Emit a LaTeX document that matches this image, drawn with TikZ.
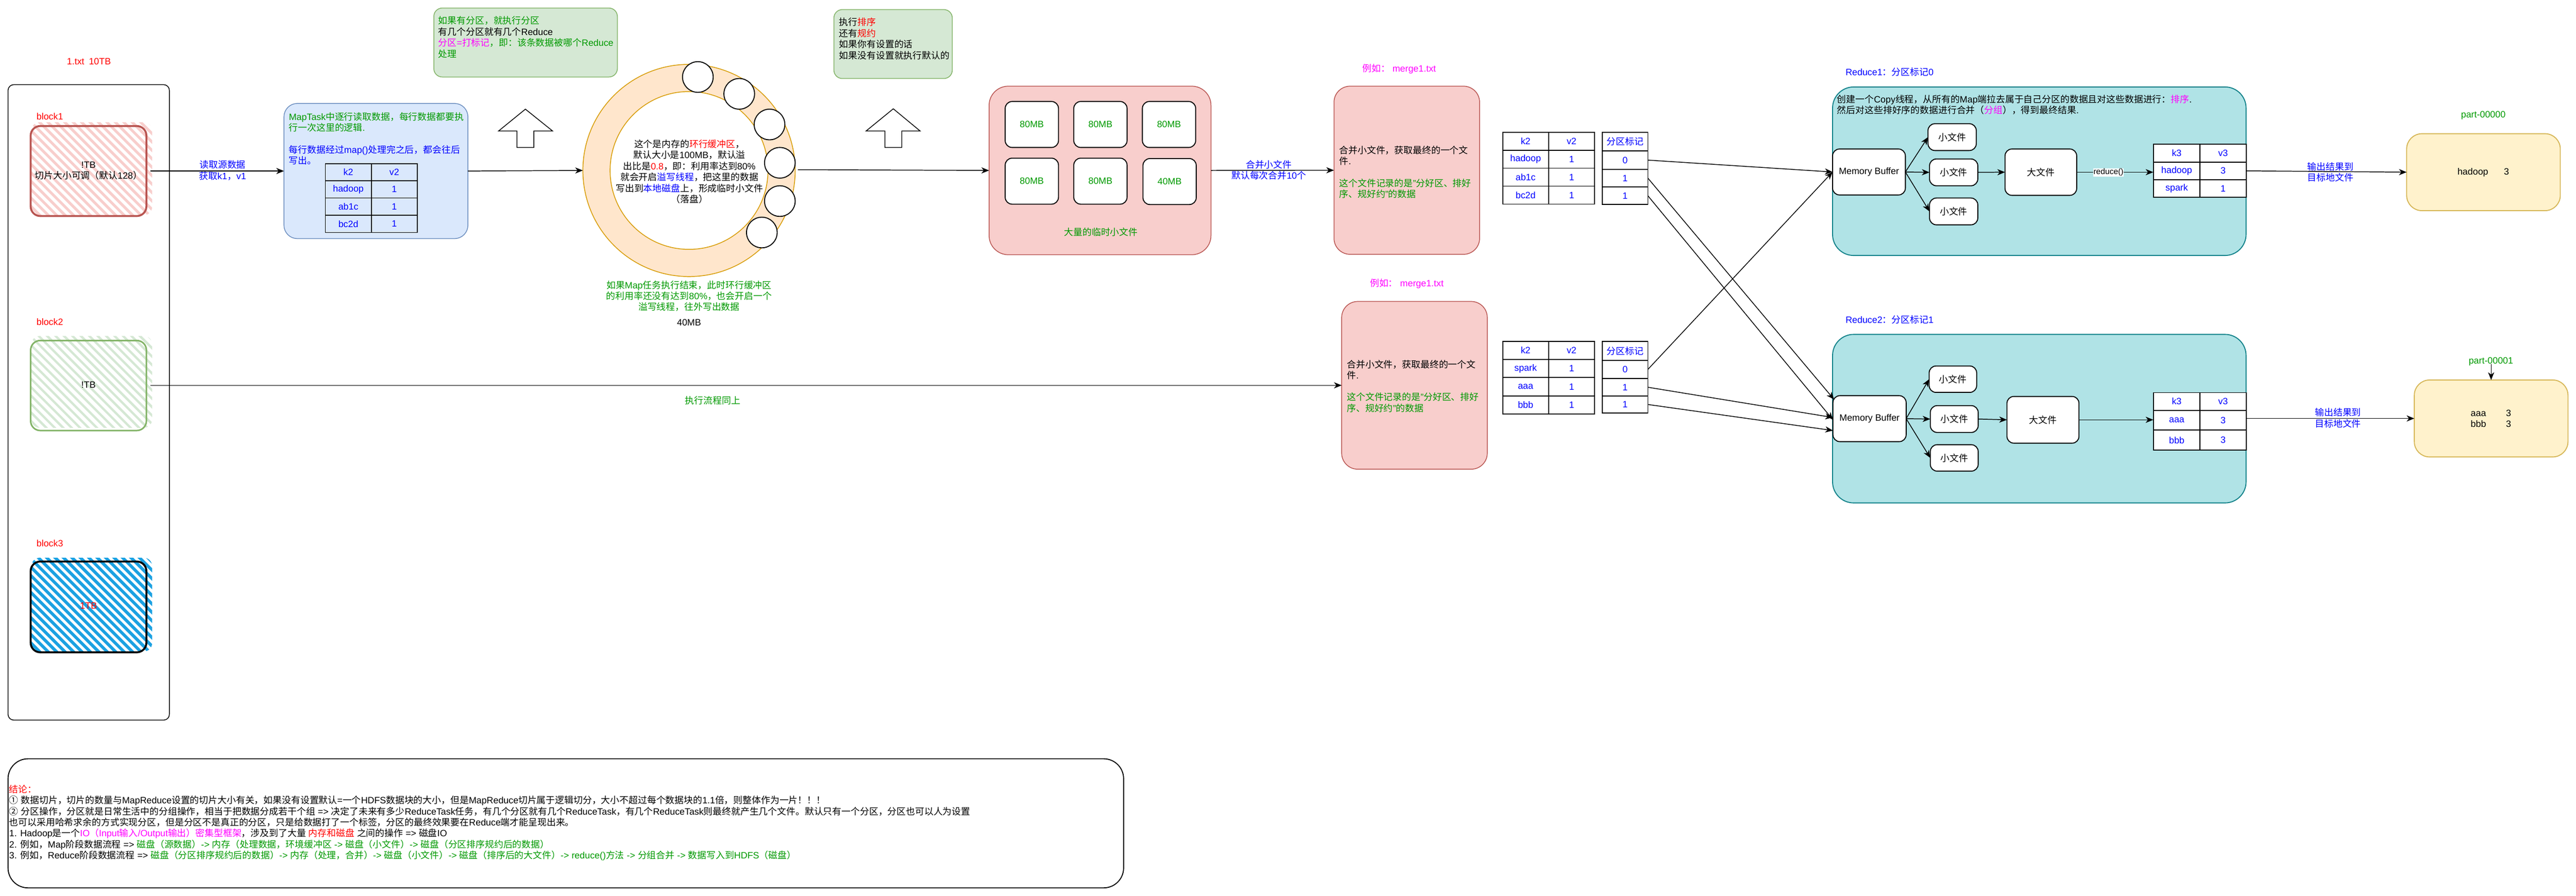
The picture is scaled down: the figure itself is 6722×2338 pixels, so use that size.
\documentclass[tikz,border=0pt]{standalone}
\usepackage{fontspec}
\setmainfont{Liberation Sans}
\newfontfamily\cjkfont{Noto Sans CJK SC}
\usetikzlibrary{arrows.meta}
\XeTeXinterchartokenstate=1
\newXeTeXintercharclass\cjkcls
\newcount\cjkc
\def\setcjkrange#1#2{\cjkc=#1\relax\loop\XeTeXcharclass\cjkc=\cjkcls\relax\ifnum\cjkc<#2\relax\advance\cjkc by 1\relax\repeat}
\setcjkrange{"2460}{"24FF}
\setcjkrange{"2E80}{"9FFF}
\setcjkrange{"F900}{"FAFF}
\setcjkrange{"FE30}{"FE4F}
\setcjkrange{"FF00}{"FFEF}
\XeTeXinterchartoks 0 \cjkcls = {\begingroup\cjkfont}
\XeTeXinterchartoks 4095 \cjkcls = {\begingroup\cjkfont}
\XeTeXinterchartoks \cjkcls 0 = {\endgroup}
\XeTeXinterchartoks \cjkcls 4095 = {\endgroup}
\definecolor{cRed}{HTML}{FF0000}
\definecolor{cBlue}{HTML}{0000FF}
\definecolor{cGreen}{HTML}{009900}
\definecolor{cMag}{HTML}{FF00FF}
\definecolor{pinkF}{HTML}{F8CECC}
\definecolor{pinkS}{HTML}{B85450}
\definecolor{blueF}{HTML}{DAE8FC}
\definecolor{blueS}{HTML}{6C8EBF}
\definecolor{greenF}{HTML}{D5E8D4}
\definecolor{greenS}{HTML}{82B366}
\definecolor{orangeF}{HTML}{FFE6CC}
\definecolor{orangeS}{HTML}{D79B00}
\definecolor{tealF}{HTML}{B0E3E6}
\definecolor{tealS}{HTML}{0E8088}
\definecolor{yellowF}{HTML}{FFF2CC}
\definecolor{yellowS}{HTML}{D6B656}
\definecolor{hatchB}{HTML}{1BA1E2}
\begin{document}
\begin{tikzpicture}[x=1pt,y=-1pt,
 every node/.style={inner sep=0pt,outer sep=0pt},
 t24/.style={font=\fontsize{24pt}{28.8pt}\selectfont},
 t21/.style={font=\fontsize{21pt}{25.2pt}\selectfont},
 sz/.style 2 args={minimum width=#1,minimum height=#2},
 arr/.style={draw=black,line width=2pt,-{Stealth[length=20pt,width=16pt,inset=6pt]}},
 shapeline/.style={draw=black,line width=2pt},
 wbox/.style={draw=black,fill=white,line width=2.5pt,rounded corners=18pt,t24},
 cell/.style={draw=black,line width=2.5pt,t24,text=cBlue},
 wcell/.style={cell,fill=white},
 lbl/.style={t24,align=center},
 notebox/.style={draw=greenS,fill=greenF,line width=2pt,rounded corners=22pt},
 pinkbox/.style={draw=pinkS,fill=pinkF,line width=2pt,rounded corners=42pt},
 tealbox/.style={draw=tealS,fill=tealF,line width=2.5pt,rounded corners=55pt},
 yellowbox/.style={draw=yellowS,fill=yellowF,line width=2.5pt,rounded corners=40pt},
]
\fill[white] (0,0) rectangle (6722,2338);
\useasboundingbox (0,0) rectangle (6722,2338);

% ---------------- left: file and blocks ----------------
\node[t24,text=cRed] (title) at (232,160) {1.txt\hspace{12pt}10TB};
\node[draw=black,line width=2pt,rounded corners=15pt,sz={421pt}{1659pt}] (file) at (231.5,1050.5) {};

\begin{scope}
 \clip[rounded corners=22pt] (82,319) rectangle (397,562);
 \foreach \i in {0,...,26} \draw[pinkF,line width=7pt] ({-180+22*\i},300) -- ++(300,300);
\end{scope}
\begin{scope}
 \clip[rounded corners=22pt] (82,877) rectangle (397,1117);
 \foreach \i in {0,...,26} \draw[greenF,line width=6pt] ({-180+22*\i},860) -- ++(300,300);
\end{scope}
\begin{scope}
 \clip[rounded corners=22pt] (82,1456) rectangle (397,1701);
 \foreach \i in {0,...,26} \draw[hatchB,line width=8pt] ({-180+22*\i},1440) -- ++(300,300);
\end{scope}

\node[draw=pinkS,line width=5pt,rounded corners=25pt,sz={302pt}{235pt}] (b1) at (231,446.5) {};
\node[draw=greenS,line width=4pt,rounded corners=25pt,sz={302pt}{235pt}] (b2) at (231,1006.5) {};
\node[draw=black,line width=5pt,rounded corners=25pt,sz={302pt}{237pt}] (b3) at (231,1584.5) {};
\node[t24,text=cRed] (b1lab) at (130,304) {block1};
\node[t24,text=cRed] (b2lab) at (130,841) {block2};
\node[t24,text=cRed] (b3lab) at (130,1419) {block3};
\node[t24,align=center] (b1txt) at (231,446) {!TB\\切片大小可调（默认128）};
\node[t24] (b2txt) at (231,1005) {!TB};
\node[t24,text=cRed] (b3txt) at (231,1582) {1TB};
\coordinate (b1out) at (393,446.5);
\coordinate (b2out) at (393,1006);

% ---------------- MapTask ----------------
\node[draw=blueS,fill=blueF,line width=2pt,rounded corners=35pt,sz={480pt}{353pt}] (maptask) at (981,446.5) {};
\node[t24,align=left,anchor=west,text=cGreen] (mtxt1) at (754,319) {MapTask中逐行读取数据，每行数据都要执\\行一次这里的逻辑.};
\node[t24,align=left,anchor=west,text=cBlue] (mtxt2) at (754,405) {每行数据经过map()处理完之后，都会往后\\写出。};
\node[cell,sz={120pt}{45pt}] (m11) at (909,449.5) {k2};
\node[cell,sz={120pt}{45pt}] (m12) at (1029,449.5) {v2};
\node[cell,sz={120pt}{45pt}] (m21) at (909,494.5) {hadoop};
\node[cell,sz={120pt}{45pt}] (m22) at (1029,494.5) {1};
\node[cell,sz={120pt}{45pt}] (m31) at (909,539.5) {ab1c};
\node[cell,sz={120pt}{45pt}] (m32) at (1029,539.5) {1};
\node[cell,sz={120pt}{45pt}] (m41) at (909,584.5) {bc2d};
\node[cell,sz={120pt}{45pt}] (m42) at (1029,584.5) {1};
\draw[arr] (b1out) -- (maptask.west);
\node[lbl,text=cBlue] (lab1) at (581,445) {读取源数据\\获取k1，v1};

% ---------------- notes and up arrows ----------------
\node[notebox,sz={479pt}{180pt}] (pnote) at (1371.5,111) {};
\node[t24,align=left,anchor=west,text=cGreen] (pnotetxt) at (1144,97) {如果有分区，就执行分区\\\textcolor{black}{有几个分区就有几个Reduce}\\\textcolor{cMag}{分区=打标记}，即：该条数据被哪个Reduce\\处理};
\draw[shapeline,fill=white] (1371,285) -- (1442,342) -- (1393,342) -- (1393,385) -- (1349,385) -- (1349,342) -- (1301,342) -- cycle;

\node[notebox,sz={309pt}{180pt}] (snote) at (2330.5,115) {};
\node[t24,align=left,anchor=west] (snotetxt) at (2190,101) {执行\textcolor{cRed}{排序}\\还有\textcolor{cRed}{规约}\\如果你有设置的话\\如果没有设置就执行默认的};
\draw[shapeline,fill=white] (2331,284) -- (2401,342) -- (2353,342) -- (2353,385) -- (2309,385) -- (2309,342) -- (2260,342) -- cycle;

% ---------------- ring buffer ----------------
\node[circle,sz={554pt}{554pt}] (ring) at (1798,445) {};
\path[draw=orangeS,fill=orangeF,line width=2pt,even odd rule] (1798,445) circle[radius=277pt] (1798,445) circle[radius=206pt];
\node[circle,draw=black,fill=white,line width=2.5pt,sz={80pt}{80pt}] (c1) at (1821,201) {};
\node[circle,draw=black,fill=white,line width=2.5pt,sz={80pt}{80pt}] (c2) at (1929,245) {};
\node[circle,draw=black,fill=white,line width=2.5pt,sz={80pt}{80pt}] (c3) at (2008,325) {};
\node[circle,draw=black,fill=white,line width=2.5pt,sz={80pt}{80pt}] (c4) at (2035,425) {};
\node[circle,draw=black,fill=white,line width=2.5pt,sz={80pt}{80pt}] (c5) at (2035,525) {};
\node[circle,draw=black,fill=white,line width=2.5pt,sz={80pt}{80pt}] (c6) at (1988,607) {};
\node[t24,align=center] (ringtxt) at (1799,448) {这个是内存的\textcolor{cRed}{环行缓冲区}，\\默认大小是100MB，默认溢\\出比是\textcolor{cRed}{0.8}，即：利用率达到80\%\\就会开启\textcolor{cBlue}{溢写线程}，把这里的数据\\写出到\textcolor{cBlue}{本地磁盘}上，形成临时小文件\\（落盘）};
\node[t24,align=center,text=cGreen] (ringnote) at (1798,773) {如果Map任务执行结束，此时环行缓冲区\\的利用率还没有达到80\%，也会开启一个\\溢写线程，往外写出数据};
\node[t24] (ring40) at (1798,842) {40MB};
\draw[arr] (maptask.east) -- (ring.west);
\coordinate (ringout) at (2082,443);

% ---------------- temp small files ----------------
\node[pinkbox,rounded corners=50pt,sz={579pt}{440pt}] (pink) at (2870.5,445) {};
\node[wbox,text=cGreen,sz={139pt}{120pt}] (f1) at (2692.5,325) {80MB};
\node[wbox,text=cGreen,sz={139pt}{120pt}] (f2) at (2871.5,325) {80MB};
\node[wbox,text=cGreen,sz={139pt}{120pt}] (f3) at (3050.5,325) {80MB};
\node[wbox,text=cGreen,sz={139pt}{120pt}] (f4) at (2692.5,473) {80MB};
\node[wbox,text=cGreen,sz={139pt}{120pt}] (f5) at (2871.5,473) {80MB};
\node[wbox,text=cGreen,sz={139pt}{120pt}] (f6) at (3052,474) {40MB};
\node[t24,text=cGreen] (pinktxt) at (2873,606) {大量的临时小文件};
\draw[arr] (ringout) -- (pink.west);

% ---------------- merge ----------------
\node[t24,text=cMag] (m1lab) at (3651,180) {例如： merge1.txt};
\node[pinkbox,sz={380pt}{439pt}] (merge1) at (3671,444.5) {};
\node[t24,align=left,anchor=west] (m1t1) at (3495,406) {合并小文件，获取最终的一个文\\件.};
\node[t24,align=left,anchor=west,text=cGreen] (m1t2) at (3495,492) {这个文件记录的是"分好区、排好\\序、规好约"的数据};
\draw[arr] (pink.east) -- (merge1.west);
\node[lbl,text=cBlue] (lab3) at (3311,444) {合并小文件\\默认每次合并10个};

\node[t24,text=cMag] (m2lab) at (3671,741) {例如： merge1.txt};
\node[pinkbox,sz={380pt}{438pt}] (merge2) at (3691,1006) {};
\node[t24,align=left,anchor=west] (m2t1) at (3515,965.5) {合并小文件，获取最终的一个文\\件.};
\node[t24,align=left,anchor=west,text=cGreen] (m2t2) at (3515,1051) {这个文件记录的是"分好区、排好\\序、规好约"的数据};
\draw[arr] (b2out) -- (merge2.west);
\node[t24,text=cGreen] (lab2) at (1860,1046) {执行流程同上};

% ---------------- k2 v2 tables with partition marks ----------------
\node[cell,sz={120pt}{47pt}] (t111) at (3981,368.5) {k2};
\node[cell,sz={120pt}{47pt}] (t112) at (4101,368.5) {v2};
\node[cell,sz={120pt}{47pt}] (t121) at (3981,415.5) {hadoop};
\node[cell,sz={120pt}{47pt}] (t122) at (4101,415.5) {1};
\node[cell,sz={120pt}{47pt}] (t131) at (3981,462.5) {ab1c};
\node[cell,sz={120pt}{47pt}] (t132) at (4101,462.5) {1};
\node[cell,sz={120pt}{47pt}] (t141) at (3981,509.5) {bc2d};
\node[cell,sz={120pt}{47pt}] (t142) at (4101,509.5) {1};
\node[cell,sz={119pt}{49pt}] (p11) at (4240.5,369.5) {分区标记};
\node[cell,sz={119pt}{48pt}] (p12) at (4240.5,418) {0};
\node[cell,sz={119pt}{46pt}] (p13) at (4240.5,465) {1};
\node[cell,sz={119pt}{46pt}] (p14) at (4240.5,511) {1};

\node[cell,sz={120pt}{47.5pt}] (t211) at (3981,914.75) {k2};
\node[cell,sz={120pt}{47.5pt}] (t212) at (4101,914.75) {v2};
\node[cell,sz={120pt}{47.5pt}] (t221) at (3981,962.25) {spark};
\node[cell,sz={120pt}{47.5pt}] (t222) at (4101,962.25) {1};
\node[cell,sz={120pt}{47.5pt}] (t231) at (3981,1009.75) {aaa};
\node[cell,sz={120pt}{47.5pt}] (t232) at (4101,1009.75) {1};
\node[cell,sz={120pt}{47.5pt}] (t241) at (3981,1057.25) {bbb};
\node[cell,sz={120pt}{47.5pt}] (t242) at (4101,1057.25) {1};
\node[cell,sz={119pt}{50pt}] (p21) at (4240.5,916) {分区标记};
\node[cell,sz={119pt}{47pt}] (p22) at (4240.5,964.5) {0};
\node[cell,sz={119pt}{46pt}] (p23) at (4240.5,1011) {1};
\node[cell,sz={119pt}{44pt}] (p24) at (4240.5,1056) {1};

% ---------------- Reduce 1 ----------------
\node[t24,text=cBlue,anchor=west] (r1lab) at (4816,188) {Reduce1：分区标记0};
\node[tealbox,sz={1079pt}{440pt}] (red1) at (5321.5,447) {};
\node[t24,align=left,anchor=west] (r1txt) at (4794,273.5) {创建一个Copy线程，从所有的Map端拉去属于自己分区的数据且对这些数据进行：\textcolor{cMag}{排序}.\\然后对这些排好序的数据进行合并（\textcolor{cMag}{分组}），得到最终结果.};
\node[wbox,sz={190pt}{120pt}] (mb1) at (4877,449) {Memory Buffer};
\node[wbox,sz={126pt}{70pt}] (s1a) at (5094,358) {小文件};
\node[wbox,sz={126pt}{70pt}] (s1b) at (5098,450) {小文件};
\node[wbox,sz={126pt}{70pt}] (s1c) at (5098,552) {小文件};
\node[wbox,sz={187pt}{121pt}] (big1) at (5325.5,449.5) {大文件};
\node[wcell,sz={122pt}{46pt}] (t311) at (5680,400) {k3};
\node[wcell,sz={120pt}{46pt}] (t312) at (5801,400) {v3};
\node[wcell,sz={122pt}{46pt}] (t321) at (5680,446) {hadoop};
\node[wcell,sz={120pt}{46pt}] (t322) at (5801,446) {3};
\node[wcell,sz={122pt}{46pt}] (t331) at (5680,492) {spark};
\node[wcell,sz={120pt}{46pt}] (t332) at (5801,492) {1};
\draw[arr] (mb1.east) -- (s1a.west);
\draw[arr] (mb1.east) -- (s1b.west);
\draw[arr] (mb1.east) -- (s1c.west);
\draw[arr] (s1b.east) -- (big1.west);
\draw[arr] (big1.east) -- (big1.east -| t321.west);
\node[t21,fill=white,inner sep=1pt] (redfn) at (5502,450) {reduce()};

% ---------------- Reduce 2 ----------------
\node[t24,text=cBlue,anchor=west] (r2lab) at (4816,834) {Reduce2：分区标记1};
\node[tealbox,sz={1079pt}{440pt}] (red2) at (5321.5,1093) {};
\node[wbox,sz={191pt}{120pt}] (mb2) at (4878.5,1093) {Memory Buffer};
\node[wbox,sz={124pt}{69pt}] (s2a) at (5096,990) {小文件};
\node[wbox,sz={125pt}{70pt}] (s2b) at (5099.5,1094) {小文件};
\node[wbox,sz={125pt}{69pt}] (s2c) at (5099.5,1195.5) {小文件};
\node[wbox,sz={188pt}{122pt}] (big2) at (5331,1096) {大文件};
\node[wcell,sz={122pt}{46pt}] (t411) at (5680,1048) {k3};
\node[wcell,sz={120pt}{46pt}] (t412) at (5801,1048) {v3};
\node[wcell,sz={122pt}{52pt}] (t421) at (5680,1097) {aaa};
\node[wcell,sz={120pt}{52pt}] (t422) at (5801,1097) {3};
\node[wcell,sz={122pt}{52pt}] (t431) at (5680,1149) {bbb};
\node[wcell,sz={120pt}{52pt}] (t432) at (5801,1149) {3};
\draw[arr] (mb2.east) -- (s2a.west);
\draw[arr] (mb2.east) -- (s2b.west);
\draw[arr] (mb2.east) -- (s2c.west);
\draw[arr] (s2b.east) -- (big2.west);
\draw[arr] (big2.east) -- (big2.east -| t421.west);

% ---------------- shuffle connectors ----------------
\coordinate (mb2a) at (4786,1043);
\coordinate (mb2b) at (4783,1096);
\coordinate (mb2c) at (4783,1090);
\coordinate (mb2d) at (4783,1124);
\draw[arr] (p12.east) -- (mb1.west);
\draw[arr] (p13.east) -- (mb2a);
\draw[arr] (p14.east) -- (mb2b);
\draw[arr] (p22.east) -- (mb1.west);
\draw[arr] (p23.east) -- (mb2c);
\draw[arr] (p24.east) -- (mb2d);

% ---------------- outputs ----------------
\node[yellowbox,sz={401pt}{201pt}] (part1) at (6480.5,449.5) {};
\node[t24] (part1txt) at (6480,450) {hadoop\hspace{41pt}3};
\node[t24,text=cGreen] (part1lab) at (6480,301) {part-00000};
\draw[arr] (t322.east) -- (part1.west);
\node[lbl,text=cBlue] (lab4) at (6081,449) {输出结果到\\目标地文件};

\node[yellowbox,sz={401pt}{201pt}] (part2) at (6500.5,1092.5) {};
\node[t24,align=left] (part2txt) at (6500,1093) {aaa\hspace{52pt}3\\bbb\hspace{52pt}3};
\node[t24,text=cGreen] (part2lab) at (6500,944) {part-00001};
\draw[arr] (t422.east |- part2.west) -- (part2.west);
\node[lbl,text=cBlue] (lab5) at (6101,1091) {输出结果到\\目标地文件};
\coordinate (p2arr) at (6500.5,951);
\draw[arr] (p2arr) -- (part2.north);

% ---------------- conclusion ----------------
\node[draw=black,line width=2.5pt,rounded corners=52pt,sz={2911pt}{337pt}] (concl) at (1476.5,2149.5) {};
\node[t24,align=left,anchor=west] (concltxt) at (24,2148) {\textcolor{cRed}{结论：}\\① 数据切片，切片的数量与MapReduce设置的切片大小有关，如果没有设置默认=一个HDFS数据块的大小，但是MapReduce切片属于逻辑切分，大小不超过每个数据块的1.1倍，则整体作为一片！！！\\② 分区操作，分区就是日常生活中的分组操作，相当于把数据分成若干个组 => 决定了未来有多少ReduceTask任务，有几个分区就有几个ReduceTask，有几个ReduceTask则最终就产生几个文件。默认只有一个分区，分区也可以人为设置\\也可以采用哈希求余的方式实现分区，但是分区不是真正的分区，只是给数据打了一个标签，分区的最终效果要在Reduce端才能呈现出来。\\1. Hadoop是一个\textcolor{cMag}{IO（Input输入/Output输出）密集型框架}，涉及到了大量 \textcolor{cRed}{内存和磁盘} 之间的操作 => 磁盘IO\\2. 例如，Map阶段数据流程 => \textcolor{cGreen}{磁盘（源数据）-> 内存（处理数据，环境缓冲区 -> 磁盘（小文件）-> 磁盘（分区排序规约后的数据）}\\3. 例如，Reduce阶段数据流程 => \textcolor{cGreen}{磁盘（分区排序规约后的数据）-> 内存（处理，合并）-> 磁盘（小文件）-> 磁盘（排序后的大文件）-> reduce()方法 -> 分组合并 -> 数据写入到HDFS（磁盘）}};
\end{tikzpicture}
\end{document}
